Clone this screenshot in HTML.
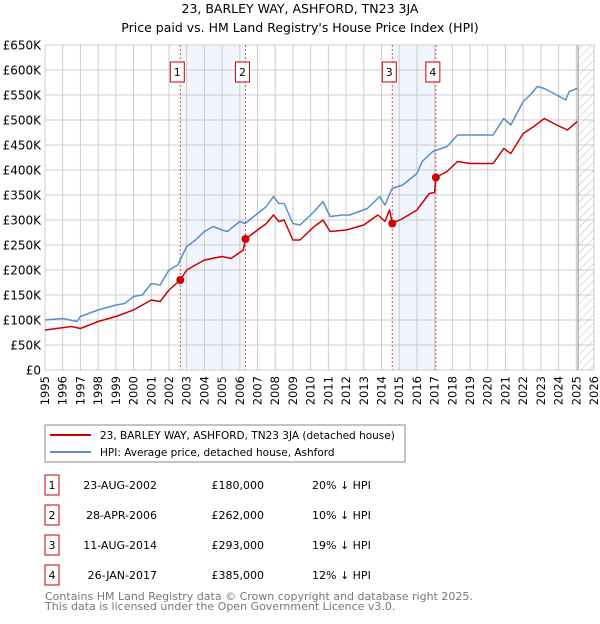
<!DOCTYPE html>
<html><head><meta charset="utf-8"><style>
body{margin:0;background:#fff;width:600px;height:620px;overflow:hidden;font-family:"DejaVu Sans","Liberation Sans",sans-serif;}
svg text{font-family:"DejaVu Sans","Liberation Sans",sans-serif;}
</style></head><body>
<svg id="c" width="600" height="620" xmlns="http://www.w3.org/2000/svg">
<defs><pattern id="hatch" width="6" height="6" patternUnits="userSpaceOnUse" patternTransform="rotate(45)"><line x1="0" y1="0" x2="0" y2="6" stroke="#bbb" stroke-width="1"/></pattern></defs>
<text x="300" y="13" text-anchor="middle" font-size="12.5">23, BARLEY WAY, ASHFORD, TN23 3JA</text>
<text x="300" y="32" text-anchor="middle" font-size="12.5">Price paid vs. HM Land Registry's House Price Index (HPI)</text>
<g id="grid"></g><g id="marks"></g><g id="axes"></g>
<rect x="45" y="425" width="360" height="37" fill="#fff" stroke="#888" stroke-width="1"/>
<line x1="50" y1="435" x2="91" y2="435" stroke="#cc0000" stroke-width="2"/>
<text x="100" y="439" font-size="10.5">23, BARLEY WAY, ASHFORD, TN23 3JA (detached house)</text>
<line x1="50" y1="452" x2="91" y2="452" stroke="#5b8cd0" stroke-width="2"/>
<text x="100" y="456" font-size="10.5">HPI: Average price, detached house, Ashford</text>
<g id="table" font-size="11"></g>
<text x="45" y="600" font-size="11" fill="#777">Contains HM Land Registry data © Crown copyright and database right 2025.</text>
<text x="45" y="610" font-size="11" fill="#777">This data is licensed under the Open Government Licence v3.0.</text>
</svg>
<script>
const hpiYears=[1995,1996,1996.8,1997,1998,1999,1999.5,2000,2000.5,2001,2001.5,2002,2002.5,2003,2003.5,2004,2004.5,2005,2005.3,2006,2006.3,2007,2007.5,2007.9,2008.2,2008.5,2009,2009.4,2010.2,2010.7,2011.1,2011.8,2012.2,2013.2,2013.9,2014.2,2014.6,2015.2,2016,2016.3,2016.9,2017.7,2018.3,2019.2,2020.3,2020.9,2021.3,2022,2022.4,2022.8,2023.2,2023.9,2024.4,2024.6,2025.05];
const hpiValues=[100,103,97,107,120,130,133,147,150,173,170,200,210,247,260,277,287,280,277,297,293,313,327,347,333,333,293,290,317,337,307,310,310,323,347,330,363,370,393,417,437,447,470,470,470,503,490,537,550,567,563,550,540,557,563];
const propYears=[1995,1996.5,1997,1998,1999,2000,2001,2001.5,2002,2002.64,2003,2004,2005,2005.5,2006.2,2006.32,2007,2007.5,2007.9,2008.2,2008.5,2009,2009.4,2010.2,2010.7,2011.1,2012,2013,2013.8,2014.2,2014.45,2014.61,2015.2,2016,2016.7,2017.0,2017.07,2017.7,2018.3,2019,2020.3,2020.9,2021.3,2022,2022.6,2023.2,2023.9,2024.5,2025.05];
const propValues=[80,87,83,97,107,120,140,137,160,180,200,220,227,223,240,262,280,293,310,297,300,260,260,287,300,277,280,290,310,297,320,293,303,320,353,355,385,397,417,413,413,443,433,473,487,503,490,480,497];
const saleLabels=["1","2","3","4"];
const saleYears=[2002.64,2006.32,2014.61,2017.07];
const salePrices=[180,262,293,385];
const saleDates=["23-AUG-2002","28-APR-2006","11-AUG-2014","26-JAN-2017"];
const salePriceText=["£180,000","£262,000","£293,000","£385,000"];
const saleDiff=["20% ↓ HPI","10% ↓ HPI","19% ↓ HPI","12% ↓ HPI"];
const yTicks=[0,50,100,150,200,250,300,350,400,450,500,550,600,650];
const yTickLabels=["£0","£50K","£100K","£150K","£200K","£250K","£300K","£350K","£400K","£450K","£500K","£550K","£600K","£650K"];
const NS="http://www.w3.org/2000/svg";
const X0=45,X1=594,Y0=370,Y1=45;
const xs=y=>X0+(y-1995)/(2026-1995)*(X1-X0);
const ys=v=>Y0-v/650*(Y0-Y1);
function mk(p,t,a){const e=document.createElementNS(NS,t);for(const k in a)e.setAttribute(k,a[k]);p.appendChild(e);return e;}
const grid=document.getElementById('grid'),marks=document.getElementById('marks'),axes=document.getElementById('axes'),tbl=document.getElementById('table');
for(const [a,b] of [[0,1],[2,3]]){const r=mk(grid,'rect',{x:xs(saleYears[a]),y:Y1,width:xs(saleYears[b])-xs(saleYears[a]),height:Y0-Y1,fill:'#eef3fc',opacity:0.8});

}
for(let yr=1995;yr<=2026;yr++){const l=mk(grid,'line',{x1:xs(yr),x2:xs(yr),y1:Y1,y2:Y0,stroke:'#ccc','stroke-width':1});


const t=mk(axes,'text',{x:0,y:0,'font-size':11.5,'text-anchor':'end',transform:`translate(${xs(yr)+4},${Y0+6}) rotate(-90)`});t.textContent=yr;

}
yTicks.forEach((v,i)=>{const l=mk(grid,'line',{x1:X0,x2:X1,y1:ys(v),y2:ys(v),stroke:'#ccc','stroke-width':1});


const t=mk(axes,'text',{x:41,y:ys(v)+4.5,'font-size':12,'text-anchor':'end'});t.textContent=yTickLabels[i];

});
const hs=xs(2025.1);
const h=mk(grid,'rect',{x:hs,y:Y1,width:X1-hs,height:Y0-Y1,fill:'url(#hatch)'});


const vl=mk(grid,'line',{x1:hs,x2:hs,y1:Y1,y2:Y0,stroke:'#999','stroke-width':1.2});


const fr=mk(grid,'rect',{x:X0,y:Y1,width:X1-X0,height:Y0-Y1,fill:'none',stroke:'#ccc'});


saleYears.forEach((yr,i)=>{const l=mk(marks,'line',{x1:xs(yr),x2:xs(yr),y1:Y1,y2:Y0,stroke:'#e05050','stroke-width':1,'stroke-dasharray':'2,2'});


const r=mk(marks,'rect',{x:xs(yr)-10,y:62,width:14,height:20,fill:'#fff',stroke:'#cc0000'});


const t=mk(marks,'text',{x:xs(yr)-3,y:76,'font-size':11,'text-anchor':'middle'});t.textContent=saleLabels[i];

});
const pth=(Y,V,c,n)=>{const p=mk(marks,'path',{d:Y.map((y,i)=>(i?'L':'M')+xs(y).toFixed(1)+','+ys(V[i]).toFixed(1)).join(''),fill:'none',stroke:c,'stroke-width':1.5,'stroke-linejoin':'round'});

};
pth(hpiYears,hpiValues,'#5b8cd0','hpi-line');
pth(propYears,propValues,'#cc0000','property-line');
saleYears.forEach((yr,i)=>{const c=mk(marks,'circle',{cx:xs(yr),cy:ys(salePrices[i]),r:4,fill:'#cc0000'});

});
saleDates.forEach((d,i)=>{const y0=475+i*30;
const r=mk(tbl,'rect',{x:45,y:y0,width:14,height:20,fill:'#fff',stroke:'#cc0000'});


const cells=[[52,saleLabels[i],'middle'],[157,d,'end'],[264,salePriceText[i],'end'],[312,saleDiff[i],'start']];
cells.forEach(([x,s,a])=>{const t=mk(tbl,'text',{x:x,y:y0+14,'text-anchor':a});t.textContent=s;

});});
</script>
</body></html>
